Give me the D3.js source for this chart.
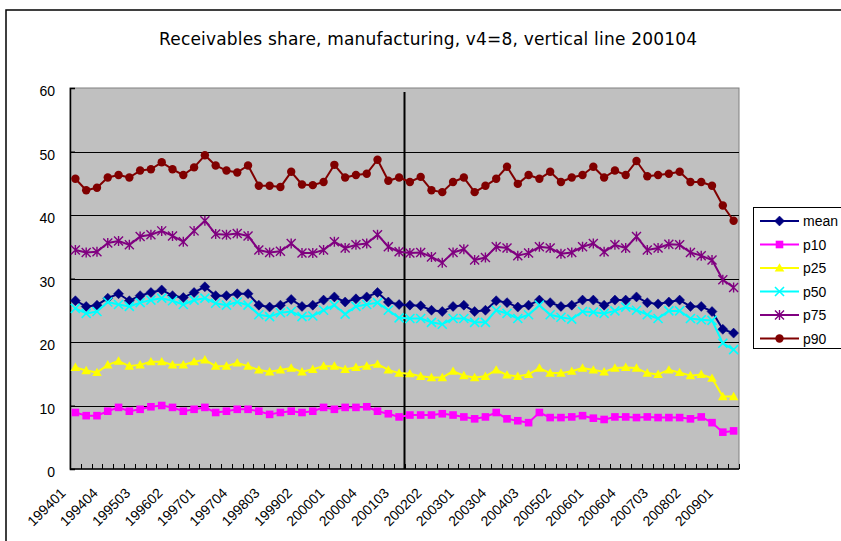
<!DOCTYPE html>
<html>
<head>
<meta charset="utf-8">
<script src="https://cdn.jsdelivr.net/npm/d3@7"></script>
<style>
  html, body { margin: 0; padding: 0; background: #fff; }
  svg { display: block; font-family: "Liberation Sans", Arial, sans-serif; }
</style>
</head>
<body>
<svg id="chart" width="841" height="541"></svg>
<script>
const categories = [
  "199401","199402","199403","199404","199501","199502","199503","199504",
  "199601","199602","199603","199604","199701","199702","199703","199704",
  "199801","199802","199803","199804","199901","199902","199903","199904",
  "200001","200002","200003","200004","200101","200102","200103","200104",
  "200201","200202","200203","200204","200301","200302","200303","200304",
  "200401","200402","200403","200404","200501","200502","200503","200504",
  "200601","200602","200603","200604","200701","200702","200703","200704",
  "200801","200802","200803","200804","200901","200902"
];
const xTickLabels = ["199401","199404","199503","199602","199701","199704","199803","199902",
  "200001","200004","200103","200202","200301","200304","200403","200502","200601","200604",
  "200703","200802","200901"];
const yTicks = [0, 10, 20, 30, 40, 50, 60];
const markerCategory = "200104";
const titleText = "Receivables share, manufacturing, v4=8, vertical line 200104";

const mean = [26.5,25.6,25.8,26.9,27.6,26.5,27.3,27.8,28.2,27.3,27.0,27.8,28.7,27.3,27.3,27.6,27.6,25.8,25.5,25.8,26.7,25.6,
  25.8,26.6,27.1,26.3,26.8,27.1,27.8,26.3,25.9,25.8,25.7,25.0,24.8,25.6,25.8,24.8,25.0,26.5,26.2,25.5,25.8,26.6,26.2,
  25.6,25.8,26.6,26.6,25.8,26.6,26.6,27.1,26.2,26.0,26.3,26.6,25.6,25.6,24.8,22.0,21.4];
const p10 = [8.9,8.4,8.4,9.1,9.7,9.1,9.4,9.8,10.0,9.7,9.1,9.4,9.7,8.9,9.1,9.4,9.4,9.1,8.6,8.9,9.1,8.9,
  9.1,9.7,9.4,9.7,9.7,9.8,9.1,8.7,8.2,8.5,8.5,8.5,8.7,8.5,8.2,7.9,8.2,8.9,7.9,7.6,7.3,8.9,8.1,
  8.1,8.2,8.4,8.0,7.8,8.2,8.2,8.1,8.2,8.1,8.1,8.1,7.9,8.2,7.3,5.8,6.0];
const p25 = [16.0,15.5,15.2,16.4,17.0,16.2,16.4,16.9,16.9,16.4,16.4,16.9,17.2,16.2,16.2,16.7,16.2,15.6,15.3,15.6,15.9,15.3,
  15.7,16.2,16.2,15.7,16.0,16.2,16.5,15.6,15.1,15.0,14.6,14.4,14.4,15.4,14.7,14.4,14.6,15.6,14.8,14.6,14.9,15.9,15.1,
  15.1,15.4,15.9,15.6,15.3,15.9,16.0,15.9,15.1,14.9,15.6,15.2,14.7,14.9,14.3,11.4,11.4];
const p50 = [25.3,24.5,24.8,26.3,25.9,25.6,26.2,26.6,26.9,26.5,25.9,26.6,26.9,26.1,25.8,26.3,25.8,24.3,24.0,24.6,24.8,24.0,
  24.1,25.0,25.8,24.4,25.6,25.9,26.2,25.0,23.8,23.7,23.7,23.1,22.8,23.7,23.7,23.1,23.1,25.0,24.5,23.7,24.3,25.8,24.3,
  23.9,23.6,24.8,24.7,24.5,24.9,25.5,25.0,24.3,23.7,24.9,24.9,23.7,23.5,23.4,19.8,18.8];
const p75 = [34.5,34.1,34.2,35.6,35.9,35.3,36.6,36.9,37.5,36.7,35.8,37.5,39.1,37.0,36.9,37.1,36.7,34.5,34.1,34.3,35.5,34.0,
  34.0,34.5,35.8,34.8,35.3,35.5,36.9,35.0,34.2,34.0,34.1,33.4,32.5,34.1,34.6,32.9,33.3,35.0,34.8,33.6,34.0,35.0,34.8,
  33.9,34.1,35.0,35.5,34.2,35.3,34.8,36.6,34.5,34.8,35.4,35.3,34.1,33.6,32.9,29.8,28.6];
const p90 = [45.7,43.9,44.3,45.9,46.3,45.9,47.0,47.2,48.3,47.2,46.3,47.5,49.4,47.8,47.0,46.7,47.8,44.6,44.6,44.4,46.8,44.8,
  44.7,45.2,47.9,45.9,46.3,46.5,48.7,45.4,45.9,45.2,46.0,43.9,43.6,45.2,45.9,43.6,44.6,45.7,47.6,44.9,46.3,45.7,46.8,
  45.2,45.9,46.3,47.6,45.9,47.0,46.3,48.5,46.1,46.3,46.5,46.8,45.2,45.2,44.6,41.5,39.1];

const seriesNames = ["mean","p10","p25","p50","p75","p90"];
const seriesValues = [mean, p10, p25, p50, p75, p90];
const seriesColors = ["#000080","#FF00FF","#FFFF00","#00FFFF","#800080","#800000"];
const seriesMarkers = ["diamond","square","triangle","x","star","circle"];

const svg = d3.select("#chart");
const plot = {left: 70, right: 739, top: 88, bottom: 469};

svg.append("rect").attr("x",0).attr("y",0).attr("width",841).attr("height",541).attr("fill","#fff");
// outer chart frame
svg.append("rect").attr("x",6).attr("y",10).attr("width",900).attr("height",600)
  .attr("fill","none").attr("stroke","#000").attr("stroke-width",1.5);

const x = d3.scaleBand().domain(categories).range([plot.left, plot.right]).padding(0);
const y = d3.scaleLinear().domain([0, 60]).range([plot.bottom, plot.top]);
const cx = c => x(c) + x.bandwidth()/2;

// plot area
svg.append("rect").attr("x",plot.left).attr("y",plot.top)
  .attr("width",plot.right-plot.left).attr("height",plot.bottom-plot.top)
  .attr("fill","#C0C0C0").attr("stroke","#808080").attr("stroke-width",1);

// gridlines
svg.append("g").selectAll("line").data(yTicks.filter(d => d > 0 && d < 60)).join("line")
  .attr("x1",plot.left).attr("x2",plot.right)
  .attr("y1",d => Math.round(y(d))+0.5).attr("y2",d => Math.round(y(d))+0.5)
  .attr("stroke","#000").attr("stroke-width",1);

// vertical marker line
svg.append("line").attr("x1",x(markerCategory)).attr("x2",x(markerCategory))
  .attr("y1",92).attr("y2",plot.bottom)
  .attr("stroke","#000").attr("stroke-width",2);

// y axis
const yAxis = svg.append("g").attr("transform",`translate(${plot.left},0)`)
  .call(d3.axisLeft(y).tickValues(yTicks).tickSize(-5).tickPadding(15).tickFormat(d3.format("d")));
yAxis.select(".domain").attr("stroke","#000").attr("stroke-width",1.5);
yAxis.selectAll(".tick line").attr("stroke","#000");
yAxis.selectAll("text").attr("font-size",14).attr("fill","#000").attr("dy","0.55em")
  .attr("font-family","'Liberation Sans', Arial, sans-serif");

// x axis ticks at category boundaries
const bounds = categories.map(c => x(c)).concat([plot.right]);
svg.append("g").selectAll("line").data(bounds).join("line")
  .attr("x1",d => Math.round(d)+0.5).attr("x2",d => Math.round(d)+0.5)
  .attr("y1",plot.bottom-5).attr("y2",plot.bottom)
  .attr("stroke","#000").attr("stroke-width",1);
svg.append("line").attr("x1",plot.left).attr("x2",plot.right)
  .attr("y1",plot.bottom).attr("y2",plot.bottom).attr("stroke","#000").attr("stroke-width",1.5);

// x labels
svg.append("g").selectAll("text").data(xTickLabels).join("text")
  .attr("transform",d => `translate(${cx(d)-9},${plot.bottom+25}) rotate(-45)`)
  .attr("text-anchor","end").attr("font-size",14).attr("fill","#000").text(d => d);

// title
svg.append("text").attr("x",428).attr("y",45).attr("text-anchor","middle")
  .attr("font-family","'DejaVu Sans', sans-serif")
  .attr("font-size",17).attr("fill","#000")
  .attr("textLength",538).attr("lengthAdjust","spacing").text(titleText);

function drawMarker(g, type, color, s) {
  const k = s || 1;
  if (type === "diamond") {
    g.append("path").attr("d",`M0,${-5*k}L${5*k},0L0,${5*k}L${-5*k},0Z`).attr("fill",color).attr("stroke",color).attr("stroke-width",0.5);
  } else if (type === "square") {
    g.append("rect").attr("x",-3.8*k).attr("y",-3.8*k).attr("width",7.6*k).attr("height",7.6*k).attr("fill",color);
  } else if (type === "triangle") {
    g.append("path").attr("d",`M0,${-4.8*k}L${4.8*k},${3.6*k}L${-4.8*k},${3.6*k}Z`).attr("fill",color);
  } else if (type === "x") {
    g.append("path").attr("d",`M${-4.5*k},${-4.5*k}L${4.5*k},${4.5*k}M${-4.5*k},${4.5*k}L${4.5*k},${-4.5*k}`)
      .attr("stroke",color).attr("stroke-width",1.6).attr("fill","none");
  } else if (type === "star") {
    g.append("path").attr("d",`M${-4.5*k},${-4.5*k}L${4.5*k},${4.5*k}M${-4.5*k},${4.5*k}L${4.5*k},${-4.5*k}M0,${-5*k}L0,${5*k}`)
      .attr("stroke",color).attr("stroke-width",1.4).attr("fill","none");
  } else if (type === "circle") {
    g.append("circle").attr("r",4.2*k).attr("fill",color);
  }
}

const line = d3.line().x((d,i) => cx(categories[i])).y(d => y(d));
const seriesG = svg.append("g");
seriesValues.forEach((vals, si) => {
  const g = seriesG.append("g");
  g.append("path").datum(vals).attr("d",line).attr("fill","none")
    .attr("stroke",seriesColors[si]).attr("stroke-width",2).attr("stroke-linejoin","round");
  vals.forEach((v,i) => {
    const mg = g.append("g").attr("transform",`translate(${cx(categories[i])},${y(v)})`);
    drawMarker(mg, seriesMarkers[si], seriesColors[si]);
  });
});

// legend
const lg = svg.append("g");
lg.append("rect").attr("x",753.5).attr("y",207.5).attr("width",120).attr("height",141)
  .attr("fill","#fff").attr("stroke","#000").attr("stroke-width",1);
seriesNames.forEach((name, i) => {
  const yy = 221 + i*23.5;
  lg.append("line").attr("x1",760).attr("x2",799).attr("y1",yy).attr("y2",yy)
    .attr("stroke",seriesColors[i]).attr("stroke-width",2);
  const mg = lg.append("g").attr("transform",`translate(779.5,${yy})`);
  drawMarker(mg, seriesMarkers[i], seriesColors[i]);
  lg.append("text").attr("x",803).attr("y",yy).attr("dy","0.36em")
    .attr("font-size",14).attr("fill","#000").text(name);
});
</script>
</body>
</html>
